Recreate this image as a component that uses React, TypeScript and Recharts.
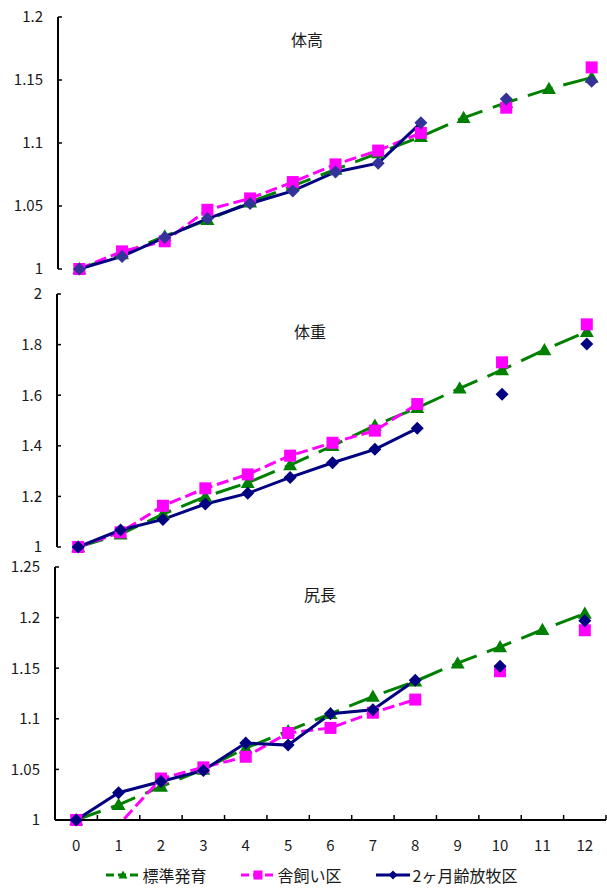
import React from 'react';
import { LineChart, Line, XAxis, YAxis, Legend } from 'recharts';

// 月齢 (x軸)
const AGES = [0, 1, 2, 3, 4, 5, 6, 7, 8, 9, 10, 11, 12];

// 体高 (0ヶ月齢を1とした比)
const HEIGHT_STD = [1.0, 1.012, 1.026, 1.039, 1.053, 1.066, 1.079, 1.092, 1.105, 1.12, 1.132, 1.143, 1.152];
const HEIGHT_BARN = [1.0, 1.014, 1.022, 1.047, 1.056, 1.069, 1.083, 1.094, 1.108, null, 1.128, null, 1.16];
const HEIGHT_GRAZE = [1.0, 1.01, 1.025, 1.04, 1.052, 1.062, 1.077, 1.084, 1.116, null, 1.135, null, 1.149];
const HEIGHT_TICKS = [1, 1.05, 1.1, 1.15, 1.2];

// 体重
const WEIGHT_STD = [1.0, 1.05, 1.13, 1.199, 1.254, 1.324, 1.4, 1.48, 1.55, 1.627, 1.7, 1.779, 1.851];
const WEIGHT_BARN = [1.0, 1.058, 1.163, 1.232, 1.287, 1.361, 1.412, 1.46, 1.565, null, 1.73, null, 1.88];
const WEIGHT_GRAZE = [1.0, 1.067, 1.109, 1.17, 1.212, 1.275, 1.333, 1.386, 1.469, null, 1.604, null, 1.802];
const WEIGHT_TICKS = [1, 1.2, 1.4, 1.6, 1.8, 2];

// 尻長
const RUMP_STD = [1.0, 1.015, 1.033, 1.05, 1.071, 1.088, 1.105, 1.122, 1.137, 1.155, 1.171, 1.188, 1.204];
const RUMP_BARN = [1.0, 0.995, 1.041, 1.052, 1.0625, 1.086, 1.091, 1.106, 1.119, null, 1.147, null, 1.1875];
const RUMP_GRAZE = [1.0, 1.027, 1.038, 1.049, 1.076, 1.074, 1.105, 1.109, 1.138, null, 1.152, null, 1.197];
const RUMP_TICKS = [1, 1.05, 1.1, 1.15, 1.2, 1.25];

const FONT = '"Noto Sans CJK JP", "Noto Sans", sans-serif';
const TEXT = '#1a1a1a';

const SERIES = [
  { key: 'std', name: '標準発育', color: '#008000', dash: '26 11', marker: 'triangle', size: 14 },
  { key: 'barn', name: '舎飼い区', color: '#FF00FF', dash: '12 5', marker: 'square', size: 12 },
  { key: 'graze', name: '2ヶ月齢放牧区', color: '#000080', dash: undefined, marker: 'diamond', size: 13 },
];

function Marker({ kind, cx, cy, fill, size }: any) {
  const h = size / 2;
  if (kind === 'triangle') {
    return <polygon points={`${cx},${cy - h} ${cx - h},${cy + h * 0.75} ${cx + h},${cy + h * 0.75}`} fill={fill} />;
  }
  if (kind === 'square') {
    return <rect x={cx - h} y={cy - h} width={size} height={size} fill={fill} />;
  }
  return <polygon points={`${cx},${cy - h} ${cx + h},${cy} ${cx},${cy + h} ${cx - h},${cy}`} fill={fill} />;
}

function markerDot(kind: string, fill: string, size: number) {
  return (props: any) => {
    const { cx, cy, index } = props;
    if (cx == null || cy == null || Number.isNaN(cx) || Number.isNaN(cy)) return <g key={index} />;
    return <Marker key={index} kind={kind} cx={cx} cy={cy} fill={fill} size={size} />;
  };
}

// x軸ラベルは区間の中央、目盛り線は区間の境界(内向き)
function AgeTick(props: any) {
  const { x, y, payload, width } = props;
  const band = width / AGES.length;
  return (
    <g>
      <line x1={x + band / 2} x2={x + band / 2} y1={y} y2={y - 5} stroke="#000" strokeWidth={1.5} />
      <text x={x} y={y + 27} textAnchor="middle" dominantBaseline="middle" fill={TEXT} fontSize={15} fontFamily={FONT}>
        {payload.value}
      </text>
    </g>
  );
}

function LegendIcon({ s }: any) {
  return (
    <svg width={34} height={14} style={{ display: 'block' }}>
      <line x1={0} x2={34} y1={7} y2={7} stroke={s.color} strokeWidth={3} strokeDasharray={s.dash ? '8 4' : undefined} />
      <Marker kind={s.marker} cx={17} cy={7} fill={s.color} size={9} />
    </svg>
  );
}

function SeriesLegend() {
  return (
    <div style={{ display: 'flex', justifyContent: 'center', alignItems: 'center', gap: 34, height: 20, paddingLeft: 12, fontFamily: FONT, fontSize: 16, color: TEXT }}>
      {SERIES.map((s) => (
        <div key={s.key} style={{ display: 'flex', alignItems: 'center', gap: 3 }}>
          <LegendIcon s={s} />
          <span>{s.name}</span>
        </div>
      ))}
    </div>
  );
}

function Panel({ std, barn, graze, ticks, width, height, margin, bottom, diamondFill }: any) {
  const domain = [ticks[0], ticks[ticks.length - 1]];
  const inRange = (v: number | null) => (v != null && v >= domain[0] && v <= domain[1] ? v : null);
  const rows = AGES.map((age, i) => ({
    age,
    std: std[i],
    barn: barn[i],
    graze: graze[i],
    stdDot: inRange(std[i]),
    barnDot: inRange(barn[i]),
    grazeDot: inRange(graze[i]),
  }));
  const axisLine = { stroke: '#000', strokeWidth: 2 };
  const xDomain = [AGES[0] - 0.5, AGES[AGES.length - 1] + 0.5];

  return (
    <LineChart width={width} height={height} data={rows} margin={margin}>
      {bottom ? (
        <XAxis
          dataKey="age"
          type="number"
          domain={xDomain}
          ticks={AGES}
          interval={0}
          height={45}
          tickSize={0}
          tickMargin={0}
          tickLine={false}
          axisLine={axisLine}
          tick={(p: any) => <AgeTick {...p} />}
        />
      ) : (
        <XAxis
          dataKey="age"
          type="number"
          domain={xDomain}
          ticks={AGES}
          height={0}
          tick={false}
          tickLine={false}
          axisLine={axisLine}
        />
      )}
      <YAxis
        yAxisId="v"
        type="number"
        domain={domain}
        ticks={ticks}
        interval={0}
        allowDataOverflow
        width={50}
        tickSize={-4}
        tickMargin={19}
        axisLine={axisLine}
        tickLine={{ stroke: '#000', strokeWidth: 1.5 }}
        tick={{ fill: TEXT, fontSize: 15, fontFamily: FONT }}
      />
      {/* マーカー用: 軸端の点が切れないようクリップしない軸 */}
      <YAxis yAxisId="m" type="number" orientation="right" domain={domain} width={0} hide />
      {SERIES.map((s) => [
        <Line
          key={s.key}
          yAxisId="v"
          dataKey={s.key}
          name={s.name}
          stroke={s.color}
          strokeWidth={3}
          strokeDasharray={s.dash}
          dot={false}
          activeDot={false}
          legendType="none"
          isAnimationActive={false}
        />,
        <Line
          key={s.key + 'Dot'}
          yAxisId="m"
          dataKey={s.key + 'Dot'}
          stroke="none"
          dot={markerDot(s.marker, s.marker === 'diamond' ? diamondFill : s.color, s.size)}
          activeDot={false}
          legendType="none"
          isAnimationActive={false}
        />,
      ])}
      {bottom && <Legend verticalAlign="bottom" content={() => <SeriesLegend />} />}
    </LineChart>
  );
}

function Title({ text, x, y }: any) {
  return (
    <div style={{ position: 'absolute', left: x, top: y, transform: 'translate(-50%, -50%)', fontSize: 16, lineHeight: 1, fontFamily: FONT, color: TEXT, whiteSpace: 'nowrap' }}>
      {text}
    </div>
  );
}

export default function App() {
  return (
    <div style={{ position: 'absolute', left: 0, top: 0, width: 607, height: 888, overflow: 'hidden', background: '#fff' }}>
      <div style={{ position: 'absolute', left: 0, top: 0 }}>
        <Panel
          std={HEIGHT_STD}
          barn={HEIGHT_BARN}
          graze={HEIGHT_GRAZE}
          ticks={HEIGHT_TICKS}
          width={616}
          height={280}
          margin={{ top: 17, right: 3, bottom: 11, left: 8 }}
          diamondFill="#333399"
        />
      </div>
      <div style={{ position: 'absolute', left: 0, top: 280 }}>
        <Panel
          std={WEIGHT_STD}
          barn={WEIGHT_BARN}
          graze={WEIGHT_GRAZE}
          ticks={WEIGHT_TICKS}
          width={610}
          height={280}
          margin={{ top: 14, right: 2, bottom: 13, left: 7 }}
          diamondFill="#000080"
        />
      </div>
      <div style={{ position: 'absolute', left: 0, top: 552 }}>
        <Panel
          std={RUMP_STD}
          barn={RUMP_BARN}
          graze={RUMP_GRAZE}
          ticks={RUMP_TICKS}
          width={607}
          height={336}
          margin={{ top: 15, right: 1, bottom: 3, left: 5 }}
          bottom
          diamondFill="#000080"
        />
      </div>
      <Title text="体高" x={307} y={39} />
      <Title text="体重" x={310} y={331} />
      <Title text="尻長" x={320} y={594} />
    </div>
  );
}
